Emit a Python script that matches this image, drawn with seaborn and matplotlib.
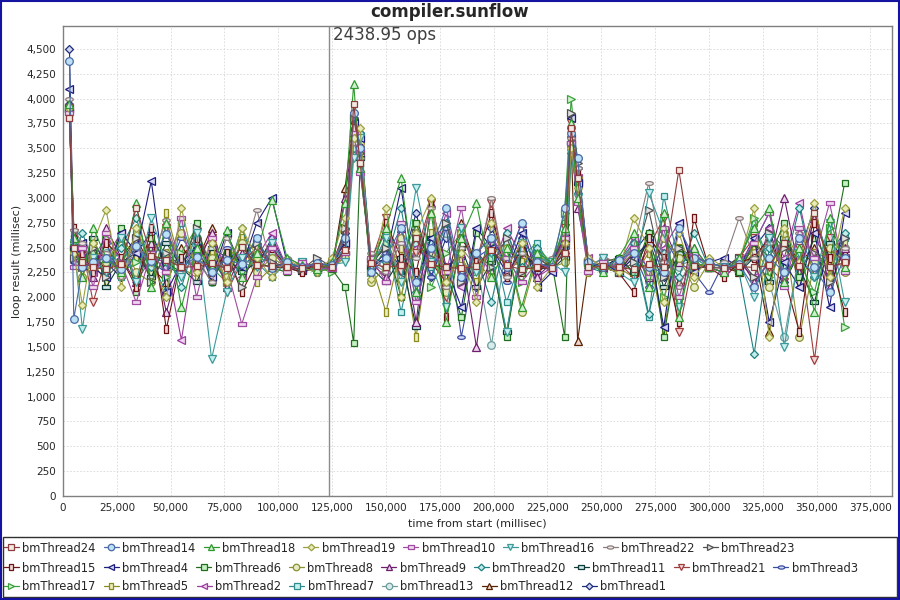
import numpy as np
import pandas as pd
import matplotlib
matplotlib.use('Agg')
import matplotlib.pyplot as plt
import seaborn as sns
from matplotlib.lines import Line2D
from matplotlib.patches import Rectangle
from matplotlib.ticker import MultipleLocator, FuncFormatter

# sample times (millisec from start), shared by all threads
times = [3000, 5000, 9000, 14000, 20000, 27000, 34000, 41000, 48000, 55000, 62000, 69000, 76000, 83000, 90000, 97000, 104000, 111000, 118000, 125000,
         131000, 135000, 138000, 143000, 150000, 157000, 164000, 171000, 178000, 185000, 192000, 199000, 206000, 213000, 220000,
         227000, 233000, 236000, 239000, 244000, 251000, 258000, 265000, 272000, 279000, 286000, 293000, 300000, 307000, 314000, 321000, 328000, 335000, 342000, 349000, 356000, 363000]

# loop result (millisec) per thread
bm24 = [3800, 2500, 2350, 2300, 2280, 2330, 2900, 2420, 2380, 2300, 2310, 2340, 2290, 2510, 2320, 2310, 2300, 2290, 2310, 2300,
        2480, 3950, 3350, 2340, 2300, 2320, 2600, 2330, 2300, 2290, 2310, 2480, 2320, 2280, 2300,
        2290, 2450, 3700, 3200, 2300, 2310, 2300, 2280, 2330, 2300, 3280, 2310, 2300, 2290, 2310, 2300, 2320, 2550, 2310, 2850, 2300, 2350]
bm14 = [4380, 1780, 2300, 2350, 2400, 2280, 2520, 2360, 2640, 2300, 2410, 2250, 2380, 2330, 2600, 2290, 2350, 2300, 2340, 2320,
        2600, 3850, 3500, 2250, 2400, 2700, 2150, 2500, 2900, 2200, 2450, 2600, 2300, 2750, 2350,
        2300, 2900, 3650, 3400, 2350, 2300, 2380, 2450, 2300, 2250, 2700, 2400, 2350, 2300, 2330, 2100, 2400, 2250, 2600, 2300, 2050, 2400]
bm18 = [3950, 2600, 2200, 2700, 2400, 2250, 2950, 2100, 2750, 1900, 2500, 2300, 2680, 2200, 2450, 2980, 2400, 2320, 2280, 2350,
        2950, 4150, 3300, 2300, 2700, 3200, 2050, 2850, 1750, 2600, 2950, 2200, 2500, 1900, 2450,
        2350, 2700, 3750, 3000, 2350, 2250, 2400, 2650, 2100, 2850, 1800, 2500, 2300, 2250, 2400, 2700, 2900, 2150, 2500, 1850, 2800, 2300]
bm19 = [3900, 2450, 1920, 2550, 2880, 2100, 2700, 2350, 2000, 2900, 2250, 2550, 2150, 2700, 2400, 2200, 2380, 2300, 2250, 2400,
        2800, 3600, 3700, 2180, 2900, 2000, 2650, 3000, 2150, 2450, 1950, 2750, 2300, 2550, 2100,
        2300, 2550, 3500, 3100, 2400, 2300, 2250, 2800, 2500, 1950, 2650, 2200, 2400, 2300, 2350, 2900, 1600, 2700, 2350, 2950, 2200, 2900]
bm10 = [3850, 2300, 2500, 2100, 2650, 2350, 1950, 2450, 2250, 2800, 2000, 2600, 2300, 1730, 2200, 2500, 2250, 2350, 2300, 2280,
        2450, 3650, 3250, 2400, 2150, 2750, 1950, 2500, 2250, 2900, 2000, 2600, 2400, 2150, 2350,
        2280, 2600, 3550, 2950, 2250, 2350, 2300, 2500, 2200, 2700, 2000, 2450, 2300, 2250, 2350, 2550, 2850, 2100, 2700, 2400, 2950, 2250]
bm16 = [3820, 2550, 1680, 2400, 2250, 2600, 2150, 2800, 2350, 2200, 2650, 1380, 2050, 2400, 2300, 2550, 2300, 2350, 2250, 2330,
        2350, 3400, 3600, 2300, 2600, 2150, 3100, 2350, 1900, 2700, 2250, 2450, 1650, 2550, 2400,
        2350, 2250, 3450, 3000, 2300, 2400, 2250, 2150, 3050, 2650, 1900, 2400, 2300, 2300, 2350, 2000, 2600, 1500, 2450, 2200, 2750, 1950]
bm22 = [4000, 2680, 2550, 2300, 2450, 2200, 2500, 2350, 2780, 2250, 2400, 2150, 2600, 2350, 2880, 2300, 2400, 2320, 2280, 2350,
        2600, 3550, 3400, 2450, 2250, 2550, 2400, 2900, 2100, 2500, 2300, 3000, 2200, 2450, 2350,
        2400, 2650, 3600, 3300, 2300, 2400, 2350, 2500, 3150, 2350, 2100, 2450, 2300, 2350, 2800, 2400, 2550, 2250, 2650, 2400, 2300, 2500]
bm23 = [3900, 2400, 2300, 2500, 2200, 2350, 2600, 2150, 2450, 2300, 2700, 2250, 2400, 2100, 2550, 2350, 2300, 2280, 2400, 2300,
        2700, 3800, 3450, 2350, 2500, 2200, 2650, 2400, 2750, 2150, 2450, 2300, 2600, 2250, 2400,
        2300, 2450, 3850, 3350, 2350, 2300, 2250, 2350, 2880, 2200, 2500, 2400, 2350, 2300, 2400, 2200, 2650, 2500, 2300, 2450, 2150, 2600]
bm15 = [3950, 2700, 2450, 2250, 2550, 2400, 2100, 2700, 1680, 2400, 2600, 2250, 2450, 2050, 2350, 2500, 2300, 2250, 2350, 2300,
        2600, 3700, 3500, 2250, 2750, 2400, 2250, 2950, 1800, 2600, 2350, 2850, 2200, 2500, 2300,
        2320, 2500, 3600, 3250, 2350, 2300, 2250, 2050, 2600, 2400, 1750, 2800, 2300, 2200, 2350, 2400, 2600, 2200, 1650, 2750, 2400, 1850]
bm4 = [4100, 2350, 2550, 2300, 2200, 2650, 2450, 3170, 2050, 2350, 2500, 2200, 2650, 2300, 2750, 3000, 2350, 2300, 2280, 2350,
       2550, 3750, 3600, 2300, 2400, 3100, 2150, 2600, 2300, 1900, 2700, 2500, 2250, 2650, 2100,
       2250, 2600, 3800, 3150, 2300, 2350, 2250, 2400, 2550, 1700, 2750, 2250, 2350, 2400, 2300, 2600, 1750, 2350, 2100, 2650, 1900, 2850]
bm6 = [3880, 2600, 2400, 2450, 2200, 2700, 2050, 2600, 2350, 2250, 2750, 2150, 2450, 2350, 2600, 2300, 2250, 2350, 2300, 2280,
       2100, 1540, 3350, 2300, 2550, 2000, 2750, 2350, 2250, 1800, 2650, 2400, 1600, 2500, 2300,
       2350, 1600, 3550, 3100, 2300, 2350, 2400, 2250, 2650, 1600, 2500, 2300, 2300, 2350, 2250, 2550, 2400, 2750, 2200, 2600, 2350, 3150]
bm8 = [3850, 2450, 2200, 2500, 2350, 2600, 2250, 2150, 2450, 2650, 2300, 2400, 2200, 2550, 2250, 2400, 2300, 2350, 2300, 2320,
       2400, 3600, 3550, 2150, 2300, 2600, 2200, 2450, 2050, 2650, 2350, 2200, 2500, 1850, 2400,
       2300, 2350, 3500, 3200, 2250, 2350, 2300, 2450, 2250, 2600, 2400, 2100, 2350, 2300, 2300, 2450, 2100, 2650, 1600, 2350, 2500, 2250]
bm9 = [3920, 2550, 2350, 2200, 2700, 2400, 2150, 2550, 1850, 2400, 2300, 2650, 2100, 2450, 2350, 2550, 2300, 2280, 2350, 2300,
       3000, 3700, 3300, 2350, 2200, 2700, 1750, 2950, 2300, 2450, 1500, 2600, 2350, 2750, 2200,
       2350, 2600, 3650, 2900, 2350, 2300, 2250, 2450, 2200, 2700, 2350, 2500, 2300, 2250, 2400, 2150, 2350, 3000, 2250, 2800, 2100, 2500]
bm20 = [3860, 2400, 2650, 2350, 2250, 2500, 2800, 2300, 2450, 2100, 2600, 2350, 2200, 2700, 2300, 2450, 2350, 2300, 2250, 2350,
        2500, 3500, 3650, 2400, 2350, 2900, 2050, 2550, 2750, 2200, 2400, 1950, 2650, 2300, 2500,
        2300, 2650, 3450, 3050, 2300, 2250, 2350, 2550, 1830, 2450, 2200, 2650, 2300, 2350, 2250, 1430, 2500, 2300, 2900, 2200, 2450, 2650]
bm11 = [3880, 2500, 2300, 2600, 2100, 2350, 2450, 2200, 2550, 2300, 2150, 2500, 2400, 2250, 2350, 2300, 2300, 2250, 2320, 2350,
        2450, 3600, 3400, 2300, 2150, 2400, 1700, 2600, 2250, 2500, 2100, 2350, 1650, 2450, 2300,
        2280, 2400, 3550, 3150, 2350, 2300, 2400, 2250, 2600, 2100, 2450, 2300, 2300, 2350, 2250, 2400, 2150, 2600, 2300, 1950, 2550, 2400]
bm21 = [3900, 2650, 2500, 1950, 2400, 2300, 2550, 2150, 2700, 2250, 2400, 2600, 2050, 2350, 2500, 2300, 2350, 2250, 2300, 2350,
        2650, 3750, 3550, 2350, 2800, 2250, 2450, 2950, 2000, 2600, 2350, 2950, 2200, 2450, 2300,
        2300, 2700, 3750, 3100, 2300, 2400, 2350, 2200, 2500, 2800, 1650, 2400, 2350, 2300, 2400, 2600, 2300, 2150, 2500, 1370, 2600, 2300]
bm3 = [3950, 2350, 2450, 2300, 2550, 2200, 2450, 2350, 2250, 2600, 2400, 2150, 2500, 2300, 2450, 2350, 2300, 2320, 2280, 2300,
       2500, 3800, 3500, 2300, 2450, 2250, 2600, 2200, 2700, 1600, 2400, 2500, 2150, 2600, 2350,
       2300, 2500, 3700, 3300, 2300, 2350, 2300, 2450, 2100, 2600, 2350, 2250, 2050, 2350, 2300, 2550, 2850, 2250, 2400, 2200, 2500, 2350]
bm17 = [3900, 2500, 2350, 2400, 2600, 2250, 2350, 2500, 2200, 2450, 2700, 2300, 2150, 2550, 2400, 2350, 2300, 2350, 2300, 2250,
        2700, 3650, 3450, 2250, 2500, 2350, 2750, 2100, 2450, 2650, 2250, 2550, 2400, 2150, 2500,
        2350, 2850, 4000, 3300, 2350, 2300, 2250, 2400, 2550, 2000, 2450, 2350, 2300, 2250, 2350, 2800, 2200, 2550, 2350, 2050, 2700, 1700]
bm5 = [3850, 2450, 2300, 2350, 2150, 2600, 2400, 2250, 2850, 2300, 2200, 2450, 2350, 2600, 2150, 2300, 2350, 2300, 2250, 2300,
       2400, 3500, 3350, 2350, 1850, 2500, 1600, 2650, 2300, 2400, 2150, 2550, 2300, 2350, 2450,
       2300, 2500, 3450, 3050, 2250, 2350, 2300, 2200, 2450, 1660, 2500, 2300, 2350, 2300, 2300, 2500, 2250, 2650, 2150, 2450, 2300, 2550]
bm2 = [3900, 2400, 2550, 2250, 2400, 2650, 2150, 2400, 2350, 1570, 2550, 2300, 2450, 2200, 2400, 2650, 2300, 2350, 2280, 2350,
       2550, 3700, 3450, 2300, 2600, 2200, 2500, 2350, 2850, 2100, 2450, 2250, 2700, 2400, 2200,
       2300, 2550, 3600, 3200, 2400, 2300, 2350, 2600, 2250, 2500, 2750, 2300, 2350, 2300, 2350, 2200, 2700, 2400, 2950, 2250, 2500, 2400]
bm7 = [3800, 2650, 2450, 2300, 2550, 2200, 2650, 2350, 2050, 2750, 2300, 2450, 2250, 2550, 2350, 2200, 2350, 2300, 2250, 2300,
       2600, 3550, 3300, 2400, 2650, 1850, 2550, 2300, 2750, 2150, 2450, 2600, 1950, 2400, 2550,
       2300, 2750, 3650, 3200, 2350, 2250, 2350, 2500, 1800, 3020, 2350, 2400, 2300, 2250, 2350, 2750, 2350, 2550, 2200, 2800, 2400, 2600]
bm13 = [3900, 2550, 2300, 2250, 2450, 2350, 2550, 2200, 2400, 2300, 2600, 2150, 2450, 2350, 2300, 2450, 2300, 2280, 2350, 2300,
        2450, 3650, 3400, 2350, 2250, 2550, 2000, 2400, 2650, 2250, 2350, 1520, 2550, 2300, 2450,
        2300, 2450, 3550, 3150, 2300, 2350, 2300, 2550, 2150, 2450, 2300, 2400, 2350, 2300, 2300, 2400, 2150, 1600, 2450, 2350, 2200, 2500]
bm12 = [3920, 2600, 2350, 2500, 2250, 2400, 2600, 2300, 2150, 2500, 2350, 2700, 2200, 2400, 2550, 2300, 2350, 2300, 2350, 2300,
        3100, 3800, 3550, 2300, 2450, 2200, 2650, 2350, 2150, 2750, 2300, 2450, 2550, 2250, 2400,
        2300, 2600, 3550, 1560, 2350, 2300, 2400, 2250, 2600, 2400, 2150, 2350, 2300, 2300, 2250, 2450, 1650, 2600, 2350, 2500, 2250, 2450]
bm1 = [4500, 2400, 2300, 2550, 2350, 2200, 2450, 2650, 2300, 2250, 2500, 2400, 2150, 2550, 2300, 2600, 2300, 2350, 2300, 2320,
       2650, 3850, 3650, 2350, 2500, 2300, 2850, 2200, 2600, 2400, 2100, 2700, 2350, 2500, 2250,
       2350, 2500, 3800, 3400, 2300, 2350, 2250, 2450, 2650, 2200, 2500, 2350, 2300, 2350, 2300, 2500, 2700, 2150, 2450, 2900, 2300, 2600]

series_names = ['bmThread24', 'bmThread14', 'bmThread18', 'bmThread19', 'bmThread10', 'bmThread16', 'bmThread22', 'bmThread23',
                'bmThread15', 'bmThread4', 'bmThread6', 'bmThread8', 'bmThread9', 'bmThread20', 'bmThread11', 'bmThread21', 'bmThread3',
                'bmThread17', 'bmThread5', 'bmThread2', 'bmThread7', 'bmThread13', 'bmThread12', 'bmThread1']
series_values = [bm24, bm14, bm18, bm19, bm10, bm16, bm22, bm23,
                 bm15, bm4, bm6, bm8, bm9, bm20, bm11, bm21, bm3,
                 bm17, bm5, bm2, bm7, bm13, bm12, bm1]
legend_rows = [8, 9, 7]

marker_label = 'ops'
marker_value = 2438.95
marker_time = 123500

edge_colors = ['#8c3c3c', '#4a6aa8', '#2e9a2e', '#9ca040', '#a04ca0', '#3c9a9a', '#8c7c7c', '#505050',
               '#6e1414', '#1c1c7c', '#1e6e1e', '#8c9030', '#6e1e6e', '#1e8080', '#103c3c', '#a03c3c', '#3c4ca0',
               '#3ca03c', '#8c8c1e', '#9c3c9c', '#2e8c8c', '#6c9c9c', '#5a1e00', '#1e2c7c']
fill_colors = ['#f2eae0', '#bce0f4', '#d0f0d0', '#e8ecb8', '#f0d8f0', '#c8f0f0', '#ede8e8', '#e0e0e0',
               '#f0d8d8', '#d8d8f4', '#c4f0c4', '#e4ecc0', '#ecd4ec', '#c4ecec', '#d0e4e4', '#f4d8d8', '#d0d8f4',
               '#d0f4d0', '#ececc0', '#f0d4f0', '#c4f0f0', '#d8ecec', '#ecd8d0', '#d0d8f0']

# JFreeChart-like shape sequence
hrect = [(-1, -0.5), (1, -0.5), (1, 0.5), (-1, 0.5), (-1, -0.5)]
vrect = [(-0.5, -1), (0.5, -1), (0.5, 1), (-0.5, 1), (-0.5, -1)]
ang = np.linspace(0, 2 * np.pi, 25)
hell = list(zip(np.cos(ang), 0.5 * np.sin(ang)))
shape_cycle = [('s', 5), ('o', 5.5), ('^', 5.5), ('D', 4), (hrect, 5.5), ('v', 5.5), (hell, 5.5), ('>', 5.5), (vrect, 5.5), ('<', 5.5)]

sns.set_style('white')
plt.rcParams['font.family'] = ['DejaVu Sans']

rows = []
for name, vals in zip(series_names, series_values):
    for t, v in zip(times, vals):
        rows.append((name, t, v))
df = pd.DataFrame(rows, columns=['thread', 'time', 'loop'])

fig = plt.figure(figsize=(9, 6), dpi=100)
ax = fig.add_axes([63 / 900, 1 - 496 / 600, 829 / 900, 470 / 600])

handles = []
# series 0 on top, as in the source chart
for i in reversed(range(len(series_names))):
    mk, ms = shape_cycle[i % len(shape_cycle)]
    sub = df[df['thread'] == series_names[i]]
    sns.lineplot(data=sub, x='time', y='loop', ax=ax, color=edge_colors[i], marker=mk, ms=ms,
                 mfc=fill_colors[i], mec=edge_colors[i], mew=0.9, lw=0.8, errorbar=None, legend=False)
for i in range(len(series_names)):
    mk, ms = shape_cycle[i % len(shape_cycle)]
    handles.append(Line2D([], [], color=edge_colors[i], marker=mk, ms=ms * 0.85, mfc=fill_colors[i],
                          mec=edge_colors[i], mew=0.9, lw=0.9, label=series_names[i]))

ax.axvline(marker_time, color='#8c8c8c', lw=1, zorder=0.5)
ax.annotate(f'{marker_value:.2f} {marker_label}', xy=(marker_time, 1), xycoords=ax.get_xaxis_transform(),
            xytext=(3, 0), textcoords='offset points', ha='left', va='top', fontsize=12, color='#404040')

ax.set_xlim(0, 385000)
ax.set_ylim(0, 4730)
ax.xaxis.set_major_locator(MultipleLocator(25000))
ax.yaxis.set_major_locator(MultipleLocator(250))
fmt = FuncFormatter(lambda v, p: f'{int(v):,}')
ax.xaxis.set_major_formatter(fmt)
ax.yaxis.set_major_formatter(fmt)
ax.tick_params(axis='both', labelsize=7.5, length=3, width=0.8, color='#808080', pad=2, direction='out')
ax.grid(True, color='#d8d8d8', lw=0.6, ls=(0, (2, 2)))
ax.set_axisbelow(True)
for s in ax.spines.values():
    s.set_color('#808080')
    s.set_linewidth(1)
ax.set_xlabel('time from start (millisec)', fontsize=8, labelpad=4)
ax.set_ylabel('loop result (millisec)', fontsize=8, labelpad=3)

fig.text(0.5, 1 - 12 / 600, 'compiler.sunflow', ha='center', va='center', fontsize=12, fontweight='bold')

# legend: three flow rows inside one box
start = 0
row_y = [1 - 548 / 600, 1 - 568 / 600, 1 - 587 / 600]
for n, y in zip(legend_rows, row_y):
    leg = fig.legend(handles=handles[start:start + n], loc='center left', bbox_to_anchor=(4 / 900, y),
                     ncol=n, frameon=False, fontsize=8.3, handlelength=1.3, handletextpad=0.3,
                     columnspacing=0.7, borderpad=0, borderaxespad=0)
    start += n
fig.add_artist(Rectangle((3 / 900, 3 / 600), 894 / 900, 60 / 600, transform=fig.transFigure,
                         fill=False, ec='#303030', lw=1))
fig.add_artist(Rectangle((0.001, 0.001), 0.998, 0.997, transform=fig.transFigure,
                         fill=False, ec='#1414a0', lw=1.5))

fig.savefig('out.png', dpi=100)
